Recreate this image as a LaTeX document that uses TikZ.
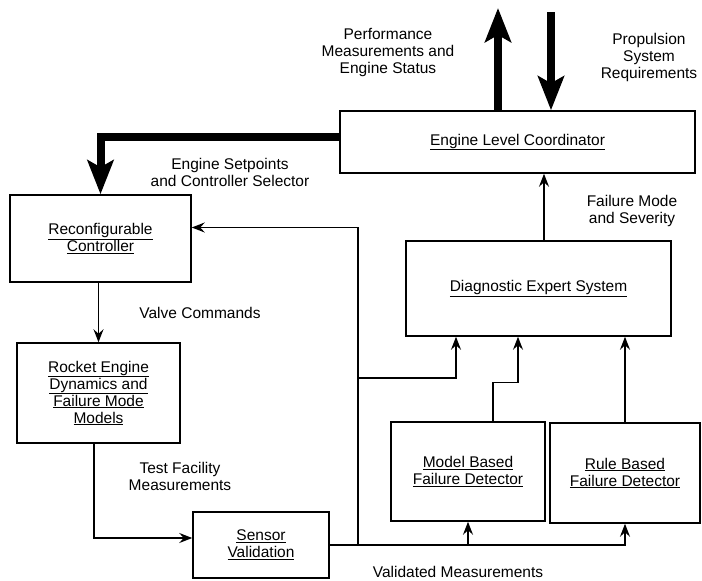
\documentclass[tikz,border=0pt]{standalone}
\usepackage{fontspec}
\setmainfont{Liberation Sans}
\usetikzlibrary{arrows.meta}
\newcommand{\lblfont}{\fontsize{15.5}{17}\selectfont}
\begin{document}
\begin{tikzpicture}[x=1pt,y=-1pt,
  box/.style={draw, line width=1.5pt, inner sep=2pt, align=center, font=\lblfont},
  lbl/.style={inner sep=1pt, align=center, font=\lblfont},
  conn/.style={line width=1.5pt, -{Stealth[length=13pt,width=10pt,inset=4.5pt]}},
  bigconn/.style={line width=8pt, line join=miter, -{Stealth[length=34pt,width=26pt,inset=7pt]}}]
\useasboundingbox (0,0) rectangle (702,581);
% boxes
\node[box, minimum width=355pt, minimum height=62pt] (elc) at (517.5,142) {\underline{Engine Level Coordinator}};
\node[box, minimum width=181pt, minimum height=87pt] (rc) at (100.5,238.5) {\underline{Reconfigurable}\\\underline{Controller}};
\node[box, minimum width=163pt, minimum height=100pt] (re) at (98.5,393) {\underline{Rocket Engine}\\\underline{Dynamics and}\\\underline{Failure Mode}\\\underline{Models}};
\node[box, minimum width=136pt, minimum height=66pt] (sv) at (261,545) {\underline{Sensor}\\\underline{Validation}};
\node[box, minimum width=265pt, minimum height=95pt] (des) at (538.5,288.5) {\underline{Diagnostic Expert System}};
\node[box, minimum width=154pt, minimum height=99pt] (mb) at (468,471.5) {\underline{Model Based}\\\underline{Failure Detector}};
\node[box, minimum width=150pt, minimum height=100pt] (rb) at (625,473) {\underline{Rule Based}\\\underline{Failure Detector}};
% labels
\node[lbl] (perf) at (388,52) {Performance\\Measurements and\\Engine Status};
\node[lbl] (prop) at (649,57) {Propulsion\\System\\Requirements};
\node[lbl] (setp) at (230,172) {Engine Setpoints\\and Controller Selector};
\node[lbl] (valve) at (200,313) {Valve Commands};
\node[lbl] (fail) at (632,211) {Failure Mode\\and Severity};
\node[lbl] (test) at (180,476) {Test Facility\\Measurements};
\node[lbl] (valid) at (458,572) {Validated Measurements};
% free ends and junctions
\coordinate (perfend) at (498,8);
\coordinate (propstart) at (551,12);
\coordinate (j2) at (358,378);
% thick connectors
\draw[bigconn] (elc.north -| perfend) -- (perfend);
\draw[bigconn] (propstart) -- (propstart |- elc.north);
\draw[bigconn] ([yshift=5pt]elc.west) -| (rc.north);
% thin connectors
\draw[conn] (re.north |- rc.south) -- (re.north);
\draw[conn] ([xshift=-4.5pt]re.south) |- ([yshift=7pt]sv.west);
\draw[conn] (sv.east) -| (rb.south);
\draw[conn] (mb.south |- sv.east) -- (mb.south);
\draw[conn] (sv.east -| j2) |- ([yshift=11pt]rc.east);
\draw[conn] (j2) -| ([xshift=-82.5pt]des.south);
\draw[conn] ([xshift=25pt]mb.north) -- ++(0,-39) -| ([xshift=-20.5pt]des.south);
\draw[conn] (rb.north) -- (rb.north |- des.south);
\draw[conn] ([xshift=5.5pt]des.north) -- ([xshift=5.5pt]des.north |- elc.south);
\end{tikzpicture}
\end{document}
